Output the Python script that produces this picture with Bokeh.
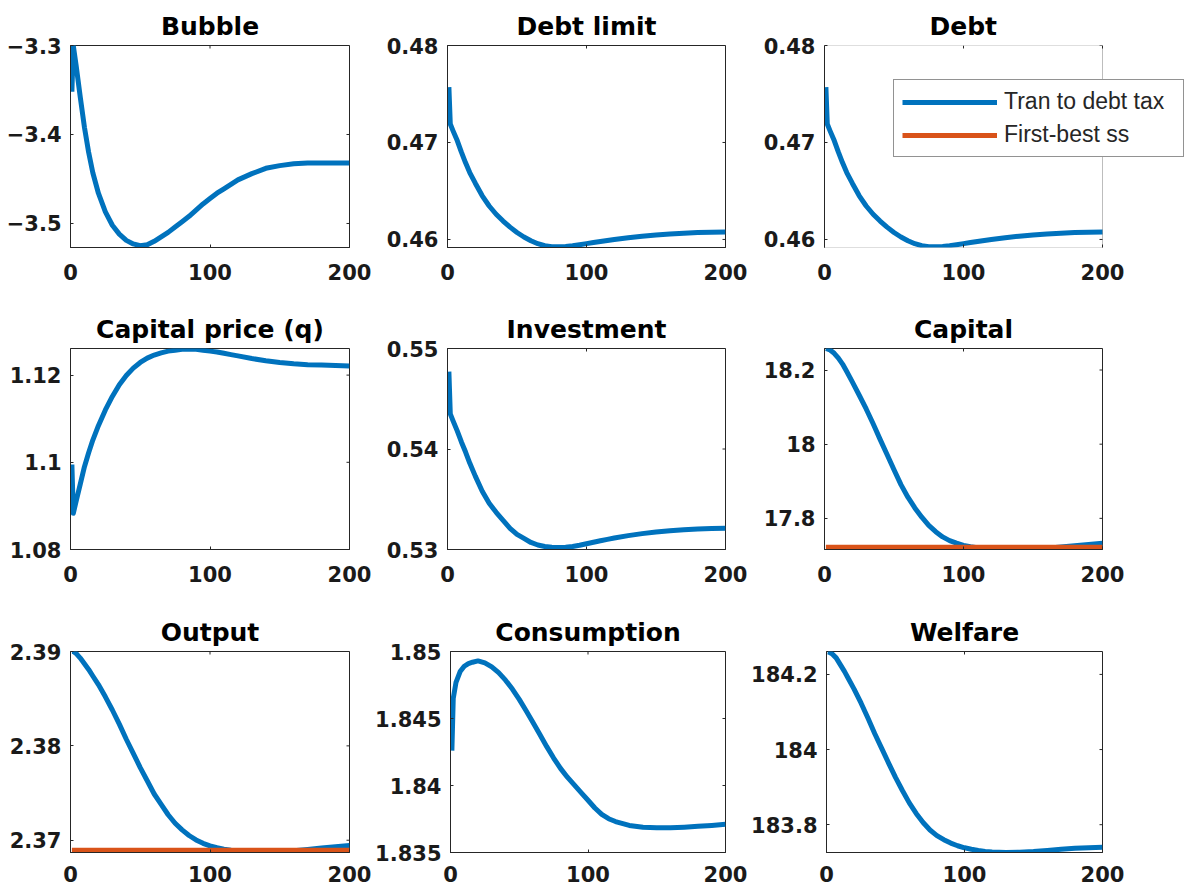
import math
from bokeh.plotting import figure
from bokeh.models import Range1d, FixedTicker, Legend, LegendItem, BoxAnnotation
from bokeh.layouts import column, row
from bokeh.embed import file_html
from bokeh.resources import INLINE

# ---------------- data ----------------
periods = [1, 2, 4, 7, 10, 13, 16, 20, 25, 30, 35, 40, 45, 50, 55, 60, 65, 70, 75, 80,
           85, 90, 95, 100, 105, 110, 115, 120, 130, 140, 150, 160, 170, 180, 190, 200]

bubble = [-3.352, -3.300, -3.322, -3.358, -3.392, -3.420, -3.443, -3.466, -3.487, -3.502,
          -3.512, -3.519, -3.523, -3.525, -3.524, -3.520, -3.515, -3.510, -3.504, -3.498,
          -3.492, -3.485, -3.478, -3.472, -3.466, -3.461, -3.456, -3.451, -3.444, -3.438,
          -3.435, -3.433, -3.432, -3.432, -3.432, -3.432]
debt_limit = [0.4757, 0.4719, 0.4712, 0.4702, 0.4690, 0.4679, 0.4669, 0.4658, 0.46450, 0.46345,
              0.46260, 0.46190, 0.46127, 0.46072, 0.46025, 0.45987, 0.45956, 0.45935, 0.45925, 0.45924,
              0.45928, 0.45936, 0.45946, 0.45957, 0.45968, 0.45979, 0.45990, 0.46000, 0.46018, 0.46034,
              0.46047, 0.46057, 0.46065, 0.46071, 0.46075, 0.46078]
debt = [0.4757, 0.4719, 0.4712, 0.4702, 0.4690, 0.4679, 0.4669, 0.4658, 0.46450, 0.46345,
        0.46260, 0.46190, 0.46127, 0.46072, 0.46025, 0.45987, 0.45956, 0.45935, 0.45925, 0.45924,
        0.45928, 0.45936, 0.45946, 0.45957, 0.45968, 0.45979, 0.45990, 0.46000, 0.46018, 0.46034,
        0.46047, 0.46057, 0.46065, 0.46071, 0.46075, 0.46078]
capital_price = [1.0995, 1.0883, 1.0910, 1.0950, 1.0990, 1.1022, 1.1051, 1.1084, 1.1120, 1.1151,
                 1.1178, 1.1199, 1.1216, 1.1229, 1.1239, 1.1246, 1.1251, 1.1255, 1.1257, 1.1259,
                 1.1260, 1.1259, 1.1257, 1.1255, 1.1253, 1.1250, 1.1247, 1.1244, 1.1238, 1.1233,
                 1.1229, 1.1226, 1.1224, 1.1223, 1.1222, 1.1221]
investment = [0.5477, 0.5435, 0.5428, 0.5418, 0.5407, 0.5397, 0.5386, 0.5373, 0.5358, 0.5346,
              0.5337, 0.5329, 0.5321, 0.5315, 0.5311, 0.5307, 0.53045, 0.53030, 0.53022, 0.53020,
              0.53022, 0.53030, 0.53042, 0.53057, 0.53072, 0.53087, 0.53101, 0.53114, 0.53138, 0.53158,
              0.53174, 0.53186, 0.53196, 0.53203, 0.53208, 0.53211]
capital = [18.258, 18.257, 18.254, 18.245, 18.232, 18.216, 18.196, 18.168, 18.132, 18.095,
           18.055, 18.013, 17.972, 17.931, 17.891, 17.857, 17.828, 17.803, 17.781, 17.764,
           17.750, 17.740, 17.733, 17.7270, 17.7235, 17.7210, 17.7193, 17.7180, 17.7165, 17.7162,
           17.7172, 17.7195, 17.7228, 17.7260, 17.7293, 17.7330]
output = [2.3900, 2.3900, 2.3898, 2.3893, 2.3887, 2.3881, 2.3874, 2.3865, 2.3852, 2.3838,
          2.3823, 2.3807, 2.3792, 2.3777, 2.3763, 2.3749, 2.3738, 2.3727, 2.3718, 2.37110,
          2.37050, 2.37003, 2.36967, 2.36940, 2.36920, 2.36905, 2.36893, 2.36884, 2.36872, 2.36868,
          2.36875, 2.36888, 2.36903, 2.36918, 2.36932, 2.36944]
consumption = [1.8426, 1.8465, 1.8477, 1.8485, 1.8489, 1.8491, 1.8492, 1.8493, 1.84915, 1.84885,
               1.84842, 1.84786, 1.84720, 1.84643, 1.84558, 1.84470, 1.84380, 1.84290, 1.84205, 1.84128,
               1.84062, 1.84005, 1.83947, 1.83890, 1.83832, 1.83784, 1.83752, 1.83731, 1.83702, 1.83689,
               1.83685, 1.83685, 1.83689, 1.83695, 1.83702, 1.83710]
welfare = [184.260, 184.259, 184.255, 184.244, 184.226, 184.208, 184.188, 184.161, 184.124, 184.084,
           184.042, 184.003, 183.964, 183.926, 183.891, 183.858, 183.830, 183.806, 183.786, 183.771,
           183.760, 183.751, 183.7440, 183.7385, 183.7345, 183.7313, 183.7290, 183.7275, 183.7262, 183.7265,
           183.7285, 183.7315, 183.7345, 183.7370, 183.7388, 183.7398]

capital_first_best = 17.7223
output_first_best = 2.36895

titles = ["Bubble", "Debt limit", "Debt", "Capital price (q)", "Investment", "Capital",
          "Output", "Consumption", "Welfare"]
legend_labels = ["Tran to debt tax", "First-best ss"]

x_ticks = [0, 100, 200]
x_tick_labels = ["0", "100", "200"]

y_ticks = [
    [-3.5, -3.4, -3.3],
    [0.46, 0.47, 0.48],
    [0.46, 0.47, 0.48],
    [1.08, 1.1, 1.12],
    [0.53, 0.54, 0.55],
    [17.8, 18.0, 18.2],
    [2.37, 2.38, 2.39],
    [1.835, 1.84, 1.845, 1.85],
    [183.8, 184.0, 184.2],
]
y_tick_labels = [
    ["\u22123.5", "\u22123.4", "\u22123.3"],
    ["0.46", "0.47", "0.48"],
    ["0.46", "0.47", "0.48"],
    ["1.08", "1.1", "1.12"],
    ["0.53", "0.54", "0.55"],
    ["17.8", "18", "18.2"],
    ["2.37", "2.38", "2.39"],
    ["1.835", "1.84", "1.845", "1.85"],
    ["183.8", "184", "184.2"],
]
y_limits = [
    (-3.527, -3.3),
    (0.45917, 0.48),
    (0.45917, 0.48),
    (1.08, 1.1261),
    (0.53, 0.55),
    (17.716, 18.258),
    (2.3687, 2.39),
    (1.835, 1.85),
    (183.726, 184.261),
]
x_limits = (0, 200)
series = [bubble, debt_limit, debt, capital_price, investment, capital, output, consumption, welfare]
first_best = {5: capital_first_best, 6: output_first_best}

# ---------------- styling ----------------
BLUE = "#0072BD"
ORANGE = "#D95319"
AX = "#262626"
# (left border, frame width, right border) per column
col_geom = [(70, 279, 23), (75, 278, 23), (76, 278, 82)]
# (top border, frame height, bottom border, x-label standoff) per row
row_geom = [(45, 202, 53, 16), (48, 201, 54, 16), (48, 201, 36, 13)]
LEGEND_PANEL = 2


def style_axis(ax, ticks, labels, standoff):
    ax.ticker = FixedTicker(ticks=ticks)
    ax.major_label_overrides = dict(zip(ticks, labels))
    ax.major_tick_in = 3
    ax.major_tick_out = 0
    ax.minor_tick_line_color = None
    ax.major_tick_line_color = AX
    ax.axis_line_color = AX
    ax.major_label_text_font = "DejaVu Sans"
    ax.major_label_text_font_style = "bold"
    ax.major_label_text_font_size = "21px"
    ax.major_label_text_color = "#1a1a1a"
    ax.major_label_standoff = standoff


figs = []
for i in range(9):
    r, c = divmod(i, 3)
    bl, fw, br = col_geom[c]
    bt, fh, bb, xso = row_geom[r]
    lo, hi = y_limits[i]
    x0, x1 = x_limits
    if i == LEGEND_PANEL:
        # widen the frame to the right edge so the legend box can overhang the axes box
        ext = br
        x_end = x1 + (x1 - x0) * ext / fw
        fw, br = fw + ext, 0
    else:
        x_end = x1
    p = figure(width=bl + fw + br, height=bt + fh + bb,
               x_range=Range1d(x0, x_end), y_range=Range1d(lo, hi),
               min_border_left=bl, min_border_right=br,
               min_border_top=bt, min_border_bottom=bb,
               output_backend="svg", toolbar_location=None, title=titles[i])
    p.title.text_font = "DejaVu Sans"
    p.title.text_font_style = "bold"
    p.title.text_font_size = "25px"
    p.title.standoff = 9
    p.title.text_color = "black"
    if i == LEGEND_PANEL:
        p.title.align = "left"
        p.title.offset = 105
    else:
        p.title.align = "center"
    p.xgrid.visible = False
    p.ygrid.visible = False
    p.background_fill_color = "white"
    p.border_fill_color = "white"
    style_axis(p.xaxis[0], x_ticks, x_tick_labels, xso)
    style_axis(p.yaxis[0], y_ticks[i], y_tick_labels[i], 9)

    if i == LEGEND_PANEL:
        p.outline_line_color = None
        p.xaxis[0].axis_line_color = None
        p.add_layout(BoxAnnotation(left=x0, right=x1, bottom=lo, top=hi,
                                   fill_alpha=0, line_color=AX, line_width=1))
    else:
        p.outline_line_color = AX

    # inward tick marks on the top and right edges of the axes box
    p.ray(x=[x1] * len(y_ticks[i]), y=y_ticks[i], length=3, length_units="screen",
          angle=math.pi, line_color=AX, line_width=1)
    p.ray(x=x_ticks, y=[hi] * len(x_ticks), length=3, length_units="screen",
          angle=-math.pi / 2, line_color=AX, line_width=1)

    blue_r = p.line(periods, series[i], line_color=BLUE, line_width=5, line_join="round")
    if i in first_best:
        p.line(periods, [first_best[i]] * len(periods), line_color=ORANGE, line_width=5)
    if i == LEGEND_PANEL:
        orange_r = p.line([float("nan")], [float("nan")], line_color=ORANGE, line_width=5)
        legend = Legend(items=[LegendItem(label=legend_labels[0], renderers=[blue_r]),
                               LegendItem(label=legend_labels[1], renderers=[orange_r])],
                        location=(69, 90))
        legend.border_line_color = AX
        legend.border_line_width = 1
        legend.background_fill_color = "white"
        legend.background_fill_alpha = 1
        legend.label_text_font = "Liberation Sans"
        legend.label_text_font_size = "23px"
        legend.label_text_color = AX
        legend.glyph_width = 95
        legend.glyph_height = 24
        legend.label_height = 24
        legend.label_width = 171
        legend.label_standoff = 7
        legend.spacing = 6
        legend.padding = 8
        legend.margin = 0
        p.add_layout(legend)
    figs.append(p)

layout = column(row(*figs[0:3]), row(*figs[3:6]), row(*figs[6:9]))

open("out.html", "w").write(file_html(layout, INLINE))
